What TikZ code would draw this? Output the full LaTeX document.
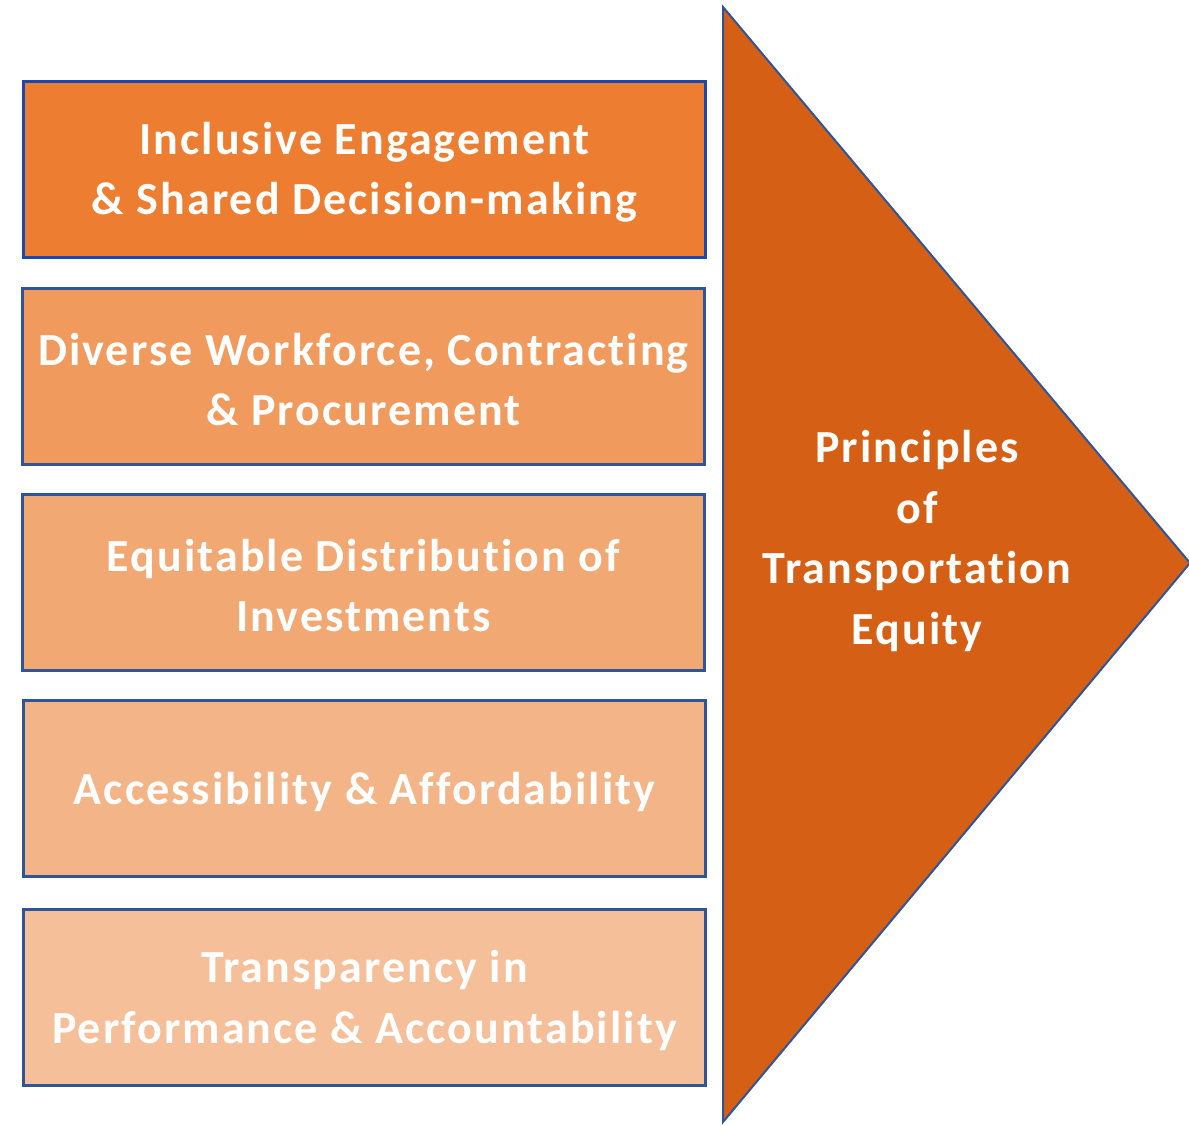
\documentclass[tikz,border=0pt]{standalone}
\usepackage{fontspec}
\setmainfont{Carlito}
\newfontfamily\labfont[LetterSpace=4.5,Ligatures=NoCommon]{Carlito}
\definecolor{bA}{HTML}{ED7D31}
\definecolor{bB}{HTML}{F09A5E}
\definecolor{bC}{HTML}{F1A873}
\definecolor{bD}{HTML}{F3B588}
\definecolor{bE}{HTML}{F5BF9A}
\definecolor{tri}{HTML}{D56015}
\definecolor{edgeA}{HTML}{1A47B0}
\definecolor{edgeB}{HTML}{2F5597}
\tikzset{
  box/.style={draw=edgeB, line width=3pt, minimum width=682pt, minimum height=176pt, inner sep=0pt, anchor=north west},
  lab/.style={text=white, font=\labfont\fontsize{46}{60.5}\selectfont\bfseries, align=center, inner sep=0pt}
}
\begin{document}
\begin{tikzpicture}[x=1pt,y=-1pt]
\useasboundingbox (0,0) rectangle (1189,1125);
\begin{scope}
\clip (0,0) rectangle (1189,1125);
\draw[draw=edgeB, line width=2pt, fill=tri, line join=miter] (723,7) -- (1190,563) -- (723,1122) -- cycle;
\end{scope}
\node[lab] (title) at (917,541) {Principles\\of\\Transportation\\Equity};
\node[box, fill=bA, draw=edgeA] (b1) at (22,80) {};
\node[box, fill=bB] (b2) at (21,287) {};
\node[box, fill=bC] (b3) at (21,493) {};
\node[box, fill=bD] (b4) at (22,699) {};
\node[box, fill=bE] (b5) at (22,908) {};
\node[lab] (t1) at ([yshift=-3pt]b1.center) {Inclusive Engagement\\\& Shared Decision-making};
\node[lab] (t2) at ([yshift=-3pt]b2.center) {Diverse Workforce, Contracting\\\& Procurement};
\node[lab] (t3) at ([yshift=-3pt]b3.center) {Equitable Distribution of\\Investments};
\node[lab] (t4) at ([yshift=-3pt]b4.center) {Accessibility \& Affordability};
\node[lab] (t5) at ([yshift=-3pt]b5.center) {Transparency in\\Performance \& Accountability};
\end{tikzpicture}
\end{document}
